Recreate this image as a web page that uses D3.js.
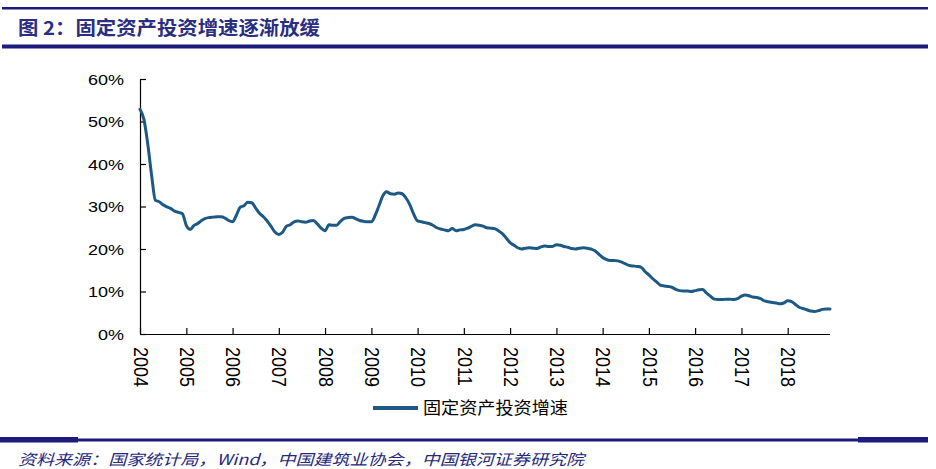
<!DOCTYPE html>
<html><head><meta charset="utf-8">
<script src="https://cdn.jsdelivr.net/npm/d3@7/dist/d3.min.js"></script>
<style>
html,body{margin:0;padding:0;background:#fff;}
svg{display:block;}
</style></head>
<body>
<svg id="chart" width="936" height="469"></svg>
<script>
// ---------- data ----------
const titleText = "图 2：固定资产投资增速逐渐放缓";
const sourceText = "资料来源：国家统计局，Wind，中国建筑业协会，中国银河证券研究院";
const seriesName = "固定资产投资增速";
const startYear = 2004;
const yearLabels = ["2004","2005","2006","2007","2008","2009","2010","2011","2012","2013","2014","2015","2016","2017","2018"];
const yTicks = [0, 10, 20, 30, 40, 50, 60];
// monthly cumulative YoY growth (%), Jan 2004 .. Dec 2018
const growth2004 = [52.9,50.5,45.0,37.5,31.5,31.1,30.4,29.9,29.5,28.9,28.6,28.3];
const growth2005 = [25.5,24.6,25.5,26.0,26.7,27.2,27.4,27.5,27.6,27.6,27.3,26.7];
const growth2006 = [26.4,28.0,29.8,30.2,31.0,30.9,29.7,28.4,27.6,26.6,25.3,24.0];
const growth2007 = [23.4,24.0,25.3,25.7,26.4,26.6,26.4,26.3,26.6,26.7,25.9,24.9];
const growth2008 = [24.3,25.7,25.6,25.6,26.5,27.2,27.4,27.5,27.1,26.7,26.5,26.4];
const growth2009 = [26.4,28.0,30.1,32.5,33.5,33.0,32.9,33.2,33.0,32.0,30.4,28.2];
const growth2010 = [26.6,26.4,26.2,26.0,25.6,25.0,24.7,24.5,24.3,24.8,24.3,24.5];
const growth2011 = [24.6,24.9,25.3,25.7,25.6,25.4,25.0,24.9,24.8,24.3,23.6,22.6];
const growth2012 = [21.5,20.9,20.3,20.0,20.2,20.3,20.2,20.1,20.5,20.7,20.6,20.6];
const growth2013 = [21.0,20.9,20.6,20.4,20.1,20.0,20.2,20.3,20.2,20.0,19.6,18.8];
const growth2014 = [18.0,17.5,17.3,17.3,17.2,16.9,16.5,16.1,16.0,15.9,15.7,14.7];
const growth2015 = [13.9,13.0,12.3,11.5,11.3,11.2,11.0,10.5,10.2,10.1,10.1,10.0];
const growth2016 = [10.2,10.4,10.5,9.6,8.9,8.2,8.1,8.1,8.2,8.2,8.1,8.3];
const growth2017 = [8.9,9.2,9.0,8.7,8.6,8.3,7.8,7.6,7.4,7.3,7.1,7.3];
const growth2018 = [7.8,7.6,7.0,6.3,6.0,5.7,5.4,5.3,5.5,5.8,5.9,5.9];

const values = [].concat(growth2004,growth2005,growth2006,growth2007,growth2008,growth2009,
  growth2010,growth2011,growth2012,growth2013,growth2014,growth2015,growth2016,growth2017,growth2018);
const data = values.map((v,i)=>({date:new Date(startYear + Math.floor(i/12), i%12, 1), value:v}));

// ---------- drawing ----------
const svg = d3.select("#chart");
const navy = "#1d1b7c";
const lineColor = "#1c5985";
const font = "'Liberation Sans', Arial, sans-serif";
const cjk = "'Noto Sans CJK SC', sans-serif";

// header rules
svg.append("rect").attr("x",2).attr("y",7).attr("width",926).attr("height",2.5).attr("fill",navy);
svg.append("rect").attr("x",2).attr("y",44.5).attr("width",926).attr("height",4).attr("fill",navy);
svg.append("text").attr("x",18).attr("y",35)
  .attr("font-family",cjk).attr("font-weight","bold").attr("font-size",19)
  .attr("fill","#2a2d80").attr("textLength",302).attr("lengthAdjust","spacingAndGlyphs")
  .text(titleText);

// footer rules
svg.append("rect").attr("x",0).attr("y",438.5).attr("width",928).attr("height",3).attr("fill",navy);
svg.append("rect").attr("x",0).attr("y",437).attr("width",78).attr("height",5.5).attr("fill",navy);
svg.append("rect").attr("x",858).attr("y",437).attr("width",70).attr("height",5.5).attr("fill",navy);
svg.append("text").attr("x",18).attr("y",465)
  .attr("font-family",cjk).attr("font-size",15).attr("font-style","italic")
  .attr("fill","#26287e").attr("textLength",566).attr("lengthAdjust","spacingAndGlyphs")
  .text(sourceText);

// scales
const x = d3.scaleTime()
  .domain([data[0].date, data[data.length-1].date])
  .range([140, 830]);
const y = d3.scaleLinear().domain([0, 60]).range([334, 79]);

// y axis
const yAxis = svg.append("g").attr("transform","translate(140,0)")
  .call(d3.axisRight(y).tickValues(yTicks).tickSize(6).tickFormat(""));
yAxis.select(".domain").attr("stroke","#000").attr("stroke-width",1.2).attr("d","M0.5,79V334");
yAxis.selectAll(".tick line").attr("stroke","#000").attr("stroke-width",1.2);
const yl = svg.append("g");
yTicks.forEach(t=>{
  const tx = yl.append("text").attr("x",124).attr("y",y(t)).attr("dy","0.36em")
    .attr("text-anchor","end").attr("font-family",font).attr("font-size",15.5).attr("fill","#000")
    .text(t + "%");
  const w = tx.node().getComputedTextLength();
  tx.attr("textLength", w*1.16).attr("lengthAdjust","spacingAndGlyphs");
});

// x axis
const yearDates = yearLabels.map(s=>new Date(+s,0,1));
const xAxis = svg.append("g").attr("transform","translate(0,334)")
  .call(d3.axisTop(x).tickValues(yearDates).tickSize(6).tickFormat(""));
xAxis.select(".domain").attr("stroke","#000").attr("stroke-width",1.2).attr("d","M140,0.5H830");
xAxis.selectAll(".tick line").attr("stroke","#000").attr("stroke-width",1.2);
const xl = svg.append("g");
yearLabels.forEach((s,i)=>{
  xl.append("text")
    .attr("transform",`translate(${x(yearDates[i])+1},347) rotate(90) scale(1,1.16)`)
    .attr("text-anchor","start").attr("dy","0.35em")
    .attr("font-family",font).attr("font-size",18).attr("fill","#000")
    .text(s);
});

// line
const line = d3.line().x(d=>x(d.date)).y(d=>y(d.value)).curve(d3.curveMonotoneX);
svg.append("path").datum(data).attr("d",line)
  .attr("fill","none").attr("stroke",lineColor).attr("stroke-width",3)
  .attr("stroke-linejoin","round").attr("stroke-linecap","round");

// legend
svg.append("line").attr("x1",373).attr("x2",418).attr("y1",408).attr("y2",408)
  .attr("stroke",lineColor).attr("stroke-width",4);
svg.append("text").attr("x",423).attr("y",408).attr("dy","0.36em")
  .attr("font-family",cjk).attr("font-size",17).attr("fill","#000")
  .attr("textLength",145).attr("lengthAdjust","spacingAndGlyphs")
  .text(seriesName);
</script>
</body></html>
